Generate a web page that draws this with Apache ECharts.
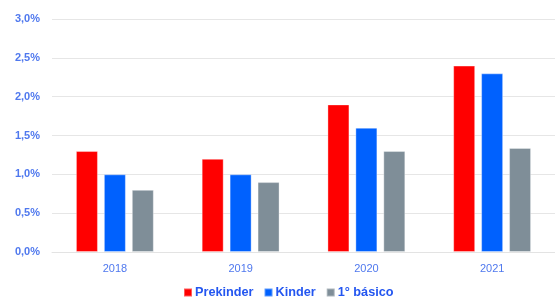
<!DOCTYPE html>
<html><head><meta charset="utf-8">
<script src="https://cdn.jsdelivr.net/npm/echarts@6/dist/echarts.min.js"></script>
<style>html,body{margin:0;padding:0;background:#fff}#c{width:555px;height:301px}</style>
</head><body><div id="c"></div>
<script>
const categories = ['2018','2019','2020','2021'];
const prekinder = [1.3, 1.2, 1.9, 2.4];
const kinder = [1.0, 1.0, 1.6, 2.3];
const basico = [0.8, 0.9, 1.3, 1.34];
const seriesNames = ['Prekinder','Kinder','1° básico'];
const colors = ['#ff0000','#0061fe','#7f8e98'];

const chart = echarts.init(document.getElementById('c'));
const mk = (name, data, i) => ({
  name, type:'bar', data, barWidth:22, barGap:'27%',
  itemStyle:{color:colors[i], borderColor:'rgba(255,255,255,0.35)', borderWidth:1}
});
chart.setOption({
  animation:false,
  grid:{left:52,right:-1,top:19,bottom:49,containLabel:false},
  legend:{top:286,left:178,itemWidth:8,itemHeight:8,itemGap:10,icon:'rect',padding:[0,5,0,5],
    textStyle:{color:'#2356f0',fontWeight:'bold',fontSize:12.7,padding:[0,0,0,-2],fontFamily:'Liberation Sans, Arial'},
    data:seriesNames},
  xAxis:{type:'category',data:categories,
    axisLine:{lineStyle:{color:'#e3e3e3'}},axisTick:{show:false},
    axisLabel:{color:'#4f78ee',fontSize:11,margin:11,fontFamily:'Liberation Sans, Arial'}},
  yAxis:{type:'value',min:0,max:3,interval:0.5,
    axisLine:{show:false},axisTick:{show:false},
    splitLine:{lineStyle:{color:'#e6e6e6',width:1}},
    axisLabel:{color:'#4f78ee',fontWeight:'bold',fontSize:11,margin:12,fontFamily:'Liberation Sans, Arial',
      formatter:v=>v.toFixed(1).replace('.',',')+'%'}},
  series:[mk(seriesNames[0],prekinder,0),mk(seriesNames[1],kinder,1),mk(seriesNames[2],basico,2)]
});
</script></body></html>
